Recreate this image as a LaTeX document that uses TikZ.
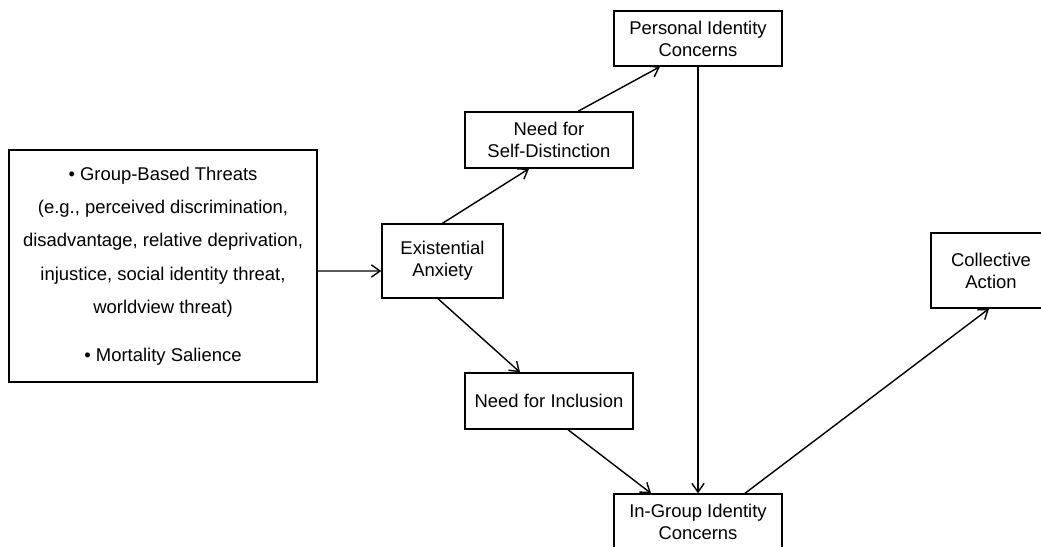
\documentclass[tikz,border=0pt]{standalone}
\usepackage{fontspec}
\setmainfont{Liberation Sans}
\usetikzlibrary{arrows.meta, positioning}
\tikzset{
x=0.02cm, y=-0.02cm, % one unit is one pixel of the sketch, y runs downwards
>={Straight Barb[length=5pt, width=7pt]}, % open arrow heads
link/.style={->, line width=0.8pt}, % the arrows between the boxes
box/.style={draw, line width=0.8pt, align=center, inner sep=0pt, minimum width=3.36cm, minimum height=1.12cm, font=\fontsize{10.5}{12.5}\selectfont}, % every box
}
\begin{document}
\begin{tikzpicture}
            \clip (0,0) rectangle (1041,547);
            \node[box, minimum width=6.16cm, minimum height=4.64cm, font=\fontsize{10.5}{19}\selectfont] (threats) at (163,266)
                {• Group-Based Threats\\(e.g., perceived discrimination,\\disadvantage, relative deprivation,\\injustice, social identity threat,\\worldview threat)\\[8.3pt]• Mortality Salience};
            \node[box, minimum width=2.42cm, minimum height=1.48cm] (anxiety) at (442.5,261) {Existential\\Anxiety};
            \node[box] (distinct) at (549,140) {Need for\\Self-Distinction};
            \node[box, minimum height=1.1cm] (personal) at (698,38.5) {Personal Identity\\Concerns};
            \node[box] (inclusion) at (549,401) {Need for Inclusion};
            \node[box] (ingroup) at (698,522) {In-Group Identity\\Concerns};
            \node[box, minimum width=2.4cm, minimum height=1.5cm] (action) at (991,270.5) {Collective\\Action};
            \draw[link] ([yshift=-0.1cm]threats.east) -- ([yshift=-0.2cm]anxiety.west);
            \draw[link] (anxiety.north) -- ([xshift=-0.4cm]distinct.south);
            \draw[link] ([xshift=0.58cm]distinct.north) -- ([xshift=-0.76cm]personal.south);
            \draw[link] ([xshift=-0.09cm]anxiety.south) -- ([xshift=-0.58cm]inclusion.north);
            \draw[link] ([xshift=0.38cm]inclusion.south) -- ([xshift=-0.94cm]ingroup.north);
            \draw[link] (personal.south) -- (ingroup.north);
            \draw[link] ([xshift=0.94cm]ingroup.north) -- ([xshift=-0.04cm]action.south);
\end{tikzpicture}
\end{document}
